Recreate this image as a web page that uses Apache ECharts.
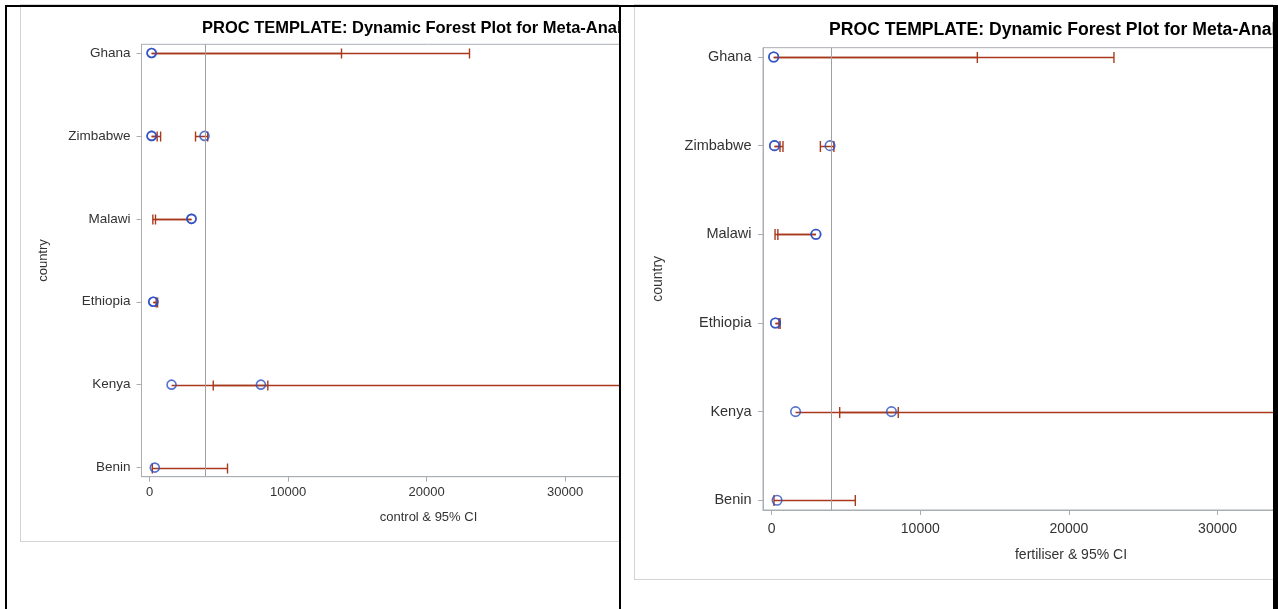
<!DOCTYPE html>
<html>
<head>
<meta charset="utf-8">
<script src="https://cdn.jsdelivr.net/npm/echarts@6/dist/echarts.min.js"></script>
<style>
  html, body { margin: 0; padding: 0; background: #fff; width: 1278px; height: 609px; overflow: hidden; }
  .clip { position: absolute; top: 0; height: 609px; overflow: hidden; }
  .frame { position: absolute; border: 1px solid #d4d4d4; box-sizing: border-box; }
  .chart { position: absolute; left: 0; top: 0; width: 900px; height: 609px; }
  .blk { position: absolute; background: #000; }
</style>
</head>
<body>
<div class="clip" id="clipL" style="left:0; width:619px;">
  <div class="frame" style="left:20px; top:4px; width:1000px; height:538px;"></div>
  <div class="chart" id="chartL"></div>
</div>
<div class="clip" id="clipR" style="left:621px; width:652px;">
  <div class="frame" style="left:13px; top:4px; width:1000px; height:576px;"></div>
  <div class="chart" id="chartR"></div>
</div>
<div class="blk" style="left:5px; top:5px; width:1273px; height:2px;"></div>
<div class="blk" style="left:5px; top:5px; width:2px; height:604px;"></div>
<div class="blk" style="left:619px; top:5px; width:2px; height:604px;"></div>
<div class="blk" style="left:1273px; top:5px; width:5px; height:604px;"></div>
<script>
// ---- data ----
const countries = ['Ghana', 'Zimbabwe', 'Malawi', 'Ethiopia', 'Kenya', 'Benin'];
const xTicks = [0, 10000, 20000, 30000, 40000];
const refValue = 4000;
const chartTitle = 'PROC TEMPLATE: Dynamic Forest Plot for Meta-Analysis';

// control & 95% CI (one entry per estimate)
const ctrlCountry = [0, 0, 1, 1, 1, 2, 2, 3, 3, 4, 4, 5];
const ctrlMean    = [150, 150, 150, 150, 3970, 3030, 3030, 270, 270, 1590, 8040, 380];
const ctrlLower   = [150, 150, 150, 150, 3320, 240, 430, 270, 270, 1590, 4600, 200];
const ctrlUpper   = [13860, 23100, 550, 800, 4200, 3030, 3030, 480, 580, 8540, 42000, 5630];

// fertiliser & 95% CI
const fertCountry = [0, 0, 1, 1, 1, 2, 2, 3, 3, 4, 4, 5];
const fertMean    = [140, 140, 195, 195, 3930, 2980, 2980, 260, 260, 1610, 8060, 365];
const fertLower   = [140, 140, 195, 195, 3280, 230, 420, 260, 260, 1610, 4580, 160];
const fertUpper   = [13840, 23030, 565, 765, 4190, 2980, 2980, 490, 570, 8520, 42000, 5630];

const FONT = "'Liberation Sans', Arial, sans-serif";
const AXIS_COLOR = '#a9aeb3';
const BLUE = '#2c4fc0';
const RED = '#A8391c';

function buildOption(cfg) {
  const bars = cfg.country.map((c, i) => [cfg.lower[i], cfg.upper[i], c, cfg.mean[i]]);
  const pts = cfg.country.map((c, i) => [cfg.mean[i], c]);
  const capH = cfg.capH;
  return {
    animation: false,
    title: {
      text: chartTitle,
      left: cfg.titleLeft, top: cfg.titleTop, padding: 0,
      textStyle: { fontFamily: FONT, fontWeight: 'bold', fontSize: cfg.titleSize, color: '#000' }
    },
    grid: {
      left: cfg.gridLeft, top: cfg.gridTop, width: cfg.gridWidth, height: cfg.gridHeight,
      show: true, borderColor: AXIS_COLOR, borderWidth: 1, backgroundColor: 'transparent'
    },
    xAxis: {
      type: 'value', min: -580, max: 40860,
      name: cfg.xName, nameLocation: 'middle', nameGap: cfg.xNameGap,
      nameTextStyle: { fontFamily: FONT, fontSize: cfg.fontSize, color: '#333' },
      axisLine: { show: true, onZero: false, lineStyle: { color: AXIS_COLOR } },
      axisTick: { show: true, length: 5, customValues: xTicks, lineStyle: { color: AXIS_COLOR } },
      axisLabel: {
        customValues: xTicks, margin: cfg.xLabelMargin, formatter: v => String(v),
        fontFamily: FONT, fontSize: cfg.fontSize, color: '#333'
      },
      splitLine: { show: false }
    },
    yAxis: {
      type: 'value', inverse: true, min: -0.105, max: 5.11,
      name: 'country', nameLocation: 'middle', nameGap: cfg.yNameGap, nameRotate: 90,
      nameTextStyle: { fontFamily: FONT, fontSize: cfg.fontSize, color: '#333' },
      axisLine: { show: true, onZero: false, lineStyle: { color: AXIS_COLOR } },
      axisTick: { show: true, length: 5, customValues: [0, 1, 2, 3, 4, 5], lineStyle: { color: AXIS_COLOR } },
      axisLabel: {
        customValues: [0, 1, 2, 3, 4, 5], margin: cfg.yLabelMargin,
        formatter: v => countries[Math.round(v)],
        fontFamily: FONT, fontSize: cfg.yFontSize, color: '#333'
      },
      splitLine: { show: false }
    },
    series: [
      {
        type: 'custom',
        clip: true,
        encode: { x: [0, 1], y: 2 },
        data: bars,
        z: 2,
        renderItem: function (params, api) {
          const lo = api.value(0), hi = api.value(1), m = api.value(3);
          const a = api.coord([lo, api.value(2)]);
          const b = api.coord([hi, api.value(2)]);
          const y = Math.round(a[1]) + 0.5;
          const st = { stroke: RED, lineWidth: 1.4 };
          const children = [
            { type: 'line', shape: { x1: a[0], y1: y, x2: b[0], y2: y }, style: st }
          ];
          if (lo !== m) children.push({ type: 'line', shape: { x1: a[0], y1: y - capH, x2: a[0], y2: y + capH }, style: st });
          if (hi !== m) children.push({ type: 'line', shape: { x1: b[0], y1: y - capH, x2: b[0], y2: y + capH }, style: st });
          return { type: 'group', children: children };
        }
      },
      {
        type: 'scatter',
        data: pts,
        symbol: 'circle',
        symbolSize: cfg.symbolSize,
        z: 3,
        itemStyle: { color: 'rgba(0,0,0,0)', borderColor: BLUE, borderWidth: 1.6 },
        markLine: {
          silent: true, symbol: 'none', animation: false,
          label: { show: false },
          lineStyle: { color: '#a0a0a0', type: 'solid', width: 1 },
          data: [{ xAxis: refValue }]
        }
      }
    ]
  };
}

const chartL = echarts.init(document.getElementById('chartL'), null, { renderer: 'canvas' });
chartL.setOption(buildOption({
  country: ctrlCountry, mean: ctrlMean, lower: ctrlLower, upper: ctrlUpper,
  xName: 'control & 95% CI',
  titleLeft: 202, titleTop: 20, titleSize: 16.5,
  gridLeft: 141.5, gridTop: 44.3, gridWidth: 574, gridHeight: 432.4,
  fontSize: 13, yFontSize: 13.5, xNameGap: 34, xLabelMargin: 9, yLabelMargin: 11, yNameGap: 92,
  capH: 5, symbolSize: 9
}));

const chartR = echarts.init(document.getElementById('chartR'), null, { renderer: 'canvas' });
chartR.setOption(buildOption({
  country: fertCountry, mean: fertMean, lower: fertLower, upper: fertUpper,
  xName: 'fertiliser & 95% CI',
  titleLeft: 208, titleTop: 21, titleSize: 17.6,
  gridLeft: 142, gridTop: 47.7, gridWidth: 616, gridHeight: 462.3,
  fontSize: 14, yFontSize: 14.5, xNameGap: 38, xLabelMargin: 12, yLabelMargin: 11.5, yNameGap: 98,
  capH: 5.5, symbolSize: 9.5
}));
</script>
</body>
</html>
